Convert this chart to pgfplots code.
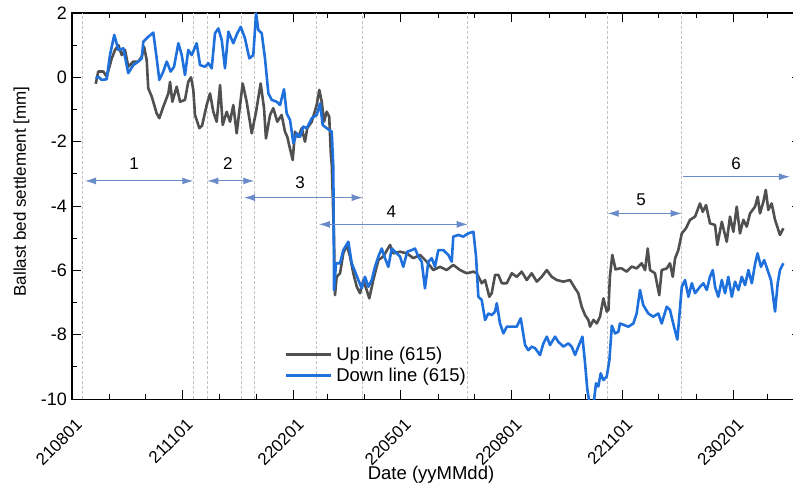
\documentclass[border=0pt]{standalone}
\usepackage{fontspec}
\setmainfont{Liberation Sans}
\usepackage{pgfplots}
\pgfplotsset{compat=1.18}
\usetikzlibrary{arrows.meta,calc}
\definecolor{upc}{RGB}{80,80,80}
\definecolor{downc}{RGB}{30,112,220}
\definecolor{arrc}{RGB}{105,140,200}
\definecolor{vline}{RGB}{195,195,195}
\newcommand{\xtf}{\fontsize{17bp}{20bp}\selectfont}
\newcommand{\ytf}{\fontsize{18bp}{21bp}\selectfont}
\newcommand{\lgf}{\fontsize{18.5bp}{22bp}\selectfont}
\newcommand{\ylf}{\fontsize{17bp}{20bp}\selectfont}
\newcommand{\nmf}{\fontsize{17bp}{20bp}\selectfont}
\begin{document}
\begin{tikzpicture}
\begin{axis}[
 x=1.2046bp, y=32.17bp,
 xmin=0, xmax=605, ymin=-10, ymax=2,
 axis line style={line width=1.1bp, black},
 xtick={0,92,184,273,365,457,549},
 xticklabels={210801,211101,220201,220501,220801,221101,230201},
 minor xtick={31,61,122,153,212,243,304,334,396,426,487,518,577},
 ytick={-10,-8,-6,-4,-2,0,2},
 yticklabels={-10,-8,-6,-4,-2,0,2},
 minor ytick={-9,-7,-5,-3,-1,1},
 major tick length=9bp, minor tick length=5bp,
 tick style={line width=0.9bp, black},
 yticklabel style={font=\ytf, inner sep=2bp, xshift=-3bp},
 xticklabel style={font=\xtf, inner sep=2bp, xshift=8.5bp, yshift=-21.5bp, rotate=45, anchor=east},
 xlabel={Date (yyMMdd)},
 ylabel={Ballast bed settlement [mm]},
 xlabel style={font=\lgf, at={(axis description cs:0.4926,-0.1969)}, anchor=center},
 ylabel style={font=\ylf, at={(axis description cs:-0.0693,0.5376)}, anchor=center},
 legend style={draw=none, fill=none, font=\lgf, at={(axis cs:176,-8.94)}, anchor=west, inner sep=0pt, row sep=3bp, column sep=3bp, nodes={inner sep=1.5bp}},
 legend cell align=left,
 legend image code/.code={\draw[#1] (0bp,0bp) -- (45bp,0bp);},
]
\pgfplotsinvokeforeach{8.9,100.7,112.7,140.9,151.3,202.6,241.3,328.5,444.7,506.1}{
 \draw[vline, dash pattern=on 3bp off 2bp, line width=0.8bp] (axis cs:#1,-10) -- (axis cs:#1,2);
}
\addplot[upc, line width=2.6bp, line join=round] coordinates {
(19.7,-0.20) (21.8,0.18) (26,0.18) (28.8,0.02) (33,0.59) (35.7,0.85) (38.5,1.00) (41.3,0.69) (44,0.85) (46.7,0.33)
(50.9,0.49) (55,0.49) (57.9,0.64) (59.8,0.95) (62,0.54) (63.3,-0.34) (66.2,-0.60) (70.3,-1.12) (72.5,-1.27) (75.8,-0.91)
(80,-0.50) (81.4,-0.14) (83.3,-0.76) (86.9,-0.29) (89.7,-0.76) (93.8,-0.70) (96.5,-0.14) (98.8,0.00) (100.7,-0.39) (102.1,-1.17)
(105.7,-1.58) (108,-1.50) (111.8,-0.86) (114.6,-0.50) (117.3,-1.07) (120.1,-1.38) (122.9,-0.24) (125.1,-1.48) (128.4,-1.07) (131.2,-1.38)
(133.9,-0.86) (136.7,-1.74) (139.5,-0.86) (141.7,-0.19) (145,-0.76) (149.2,-1.74) (152.8,-1.07) (156.6,-0.19) (159.4,-0.96) (161,-1.90)
(164.4,-1.17) (167.1,-0.96) (170.4,-1.38) (174,-1.17) (176.8,-1.69) (178.7,-1.85) (180.9,-2.21) (183.2,-2.57) (185.1,-1.69) (187.9,-1.85)
(190.7,-1.58) (193.4,-2.00) (195.3,-1.58) (199,-1.38) (203.1,-0.86) (205.3,-0.39) (207.3,-0.76) (209.2,-1.38) (211.4,-1.07) (213.5,-1.22)
(214.9,-2.41) (215.6,-2.67) (217.5,-5.0) (218.3,-6.77) (219.7,-6.20) (222.5,-6.09) (225.2,-5.47) (228.1,-5.21) (230.8,-5.57) (233.5,-6.09)
(236.4,-6.51) (239.1,-6.71) (241.8,-6.30) (244.6,-6.61) (246.8,-6.87) (250.1,-6.30) (254.3,-5.68) (258.4,-5.57) (264,-5.21) (266.7,-5.47)
(272.3,-5.42) (277.9,-5.47) (283.3,-5.62) (288.9,-5.52) (294.5,-5.73) (299.9,-5.99) (305.5,-5.89) (311,-5.99) (316.5,-5.83) (322.1,-5.99)
(327.7,-6.09) (333.2,-6.04) (336,-6.09) (340.1,-6.40) (342.9,-6.30) (346.4,-6.82) (348.4,-6.71) (351.2,-6.14) (353.9,-6.14) (356.8,-6.40)
(360.9,-6.40) (365,-6.09) (369.2,-6.20) (373.3,-6.04) (377.5,-6.30) (381.6,-6.09) (385.8,-6.35) (389.9,-6.20) (394.1,-5.99) (398.2,-6.20)
(402.4,-6.30) (407.9,-6.35) (413.4,-6.30) (417.6,-6.56) (420.3,-6.71) (423.1,-7.13) (425.9,-7.39) (428.6,-7.54) (430,-7.75) (432.8,-7.54)
(435.6,-7.65) (438.3,-7.44) (441.1,-6.87) (443.9,-7.28) (445.3,-7.23) (446.5,-6.20) (448.5,-5.52) (451.2,-5.97) (454.4,-5.94) (456.3,-5.94)
(460.4,-6.04) (464.6,-5.88) (468.7,-5.94) (472.9,-5.78) (475.7,-5.99) (477.9,-5.32) (479.8,-5.99) (483.9,-6.09) (487.5,-6.77) (489.5,-5.99)
(493.7,-5.94) (496.4,-5.78) (498.7,-6.20) (500.6,-5.63) (503.3,-5.37) (506.2,-4.85) (509.7,-4.69) (513,-4.43) (517.2,-4.33) (521.3,-3.92)
(523.6,-4.18) (526.3,-3.97) (529.6,-4.54) (533.8,-4.59) (535.7,-5.21) (539.4,-4.49) (543.5,-5.11) (546.2,-4.33) (549,-4.80) (551.8,-4.02)
(554.5,-4.85) (557.3,-4.43) (560.1,-4.64) (562.8,-4.23) (567,-4.02) (569.2,-3.71) (571.1,-4.23) (573.9,-3.87) (575.9,-3.50) (578,-4.12)
(580.8,-3.92) (583.6,-4.43) (587.7,-4.90) (590.5,-4.69)
};
\addlegendentry{Up line (615)}
\addplot[downc, line width=2.6bp, line join=round] coordinates {
(19.7,-0.03) (21.8,0.02) (24.7,-0.08) (28.8,-0.06) (31.5,0.69) (35.1,1.32) (38.5,0.85) (42.6,0.90) (46.7,0.13) (50.9,0.38)
(55,0.49) (57.9,0.59) (59.2,1.11) (63.3,1.26) (67.5,1.39) (70.3,0.59) (72.5,-0.08) (75.8,0.18) (78.6,0.49) (81.9,0.18)
(84.7,0.33) (88.3,1.06) (91.1,0.69) (93.8,0.07) (96.5,0.85) (99.4,0.69) (103.5,1.06) (106.3,0.38) (110.4,0.33) (113.2,0.44)
(116,0.28) (118.7,1.37) (121.5,1.52) (124.3,1.16) (127,0.28) (129.8,1.42) (133.9,1.06) (137.2,1.37) (140.1,1.57) (143.6,1.21)
(147.2,0.59) (150.5,0.69) (152.8,1.99) (154.7,1.47) (157.5,1.37) (160.2,0.59) (163,-0.50) (165.8,-0.70) (169.9,-0.76) (172.7,-0.86)
(176,-0.37) (178.2,-1.12) (181,-1.33) (183.8,-2.05) (186.5,-1.74) (189.3,-1.85) (192,-1.53) (194.9,-1.58) (199,-1.27) (203.1,-1.17)
(205.9,-0.81) (208.1,-1.48) (211.4,-1.58) (215.6,-1.69) (216.9,-2.78) (217.2,-4.33) (217.5,-6.61) (219.2,-5.78) (222.5,-5.78) (225.2,-5.37)
(229.4,-5.11) (232.2,-5.78) (235,-6.04) (237.7,-6.30) (240.5,-6.56) (243.2,-6.20) (246,-6.51) (248.8,-6.30) (251.5,-5.89) (254.3,-5.57)
(257.1,-5.32) (259.8,-5.62) (262.6,-5.89) (265.4,-5.32) (268.1,-5.42) (272.3,-5.57) (275,-5.89) (278.3,-5.42) (282,-5.37) (284.7,-5.32)
(287.5,-5.57) (290.3,-5.73) (293,-6.56) (295.8,-5.73) (298.6,-5.62) (301.3,-5.89) (304.1,-5.37) (308.2,-5.37) (312.4,-5.52) (315.2,-5.73)
(316.5,-4.95) (320.7,-4.90) (324.8,-4.95) (329,-4.85) (333.2,-4.80) (335.4,-5.57) (337.3,-6.82) (340.1,-6.92) (342.9,-7.54) (345.6,-7.34)
(348.4,-7.39) (351.2,-7.28) (352.6,-7.02) (355.3,-7.65) (358.1,-7.96) (360.9,-7.75) (365,-7.75) (369.2,-7.75) (372.5,-7.49) (376.1,-8.32)
(378.8,-8.48) (381.6,-8.37) (384.4,-8.42) (388.5,-8.63) (391.3,-8.27) (394.1,-8.06) (396.8,-8.32) (401,-8.06) (403.7,-8.22) (407.9,-8.37)
(412,-8.27) (414.8,-8.37) (417.6,-8.63) (420.3,-8.37) (423.7,-8.06) (425.9,-8.89) (427.8,-9.72) (430,-10.2) (432.8,-10.2) (435,-9.51)
(436.9,-9.61) (438.9,-9.20) (441.1,-9.41) (443.9,-9.30) (446.1,-8.79) (448.1,-7.72) (450.8,-7.96) (453.5,-7.91) (454.9,-7.65) (461.8,-7.75)
(466,-7.65) (468.7,-7.34) (471.5,-6.61) (474.2,-7.08) (478.4,-7.34) (482.5,-7.44) (486.7,-7.34) (489.5,-7.65) (493.7,-7.13) (496.4,-7.23)
(499.7,-7.75) (502.5,-8.15) (504.8,-7.13) (506.2,-6.51) (508.9,-6.30) (511.7,-6.82) (514.5,-6.40) (517.2,-6.71) (521.3,-6.51) (524.1,-6.40)
(526.9,-6.61) (529.6,-6.20) (531.9,-5.99) (533.8,-6.51) (536.5,-6.82) (539.4,-6.30) (542.1,-6.71) (544.8,-6.20) (547.7,-6.82) (550.4,-6.35)
(553.2,-6.61) (556,-6.20) (558.7,-6.46) (561.5,-5.99) (564.3,-6.40) (567.1,-5.78) (569.1,-5.47) (571.9,-5.89) (574.6,-5.68) (577.4,-5.99)
(580.2,-6.30) (583.6,-7.28) (585.8,-6.40) (587.7,-5.99) (590.5,-5.78)
};
\addlegendentry{Down line (615)}
\tikzset{aa/.style={arrc, line width=0.9bp}}
\draw[aa, {Latex[length=11bp,width=7bp]}-{Latex[length=11bp,width=7bp]}] (axis cs:10.8,-3.22) -- (axis cs:100.7,-3.22);
\draw[aa, {Latex[length=11bp,width=7bp]}-{Latex[length=11bp,width=7bp]}] (axis cs:112.3,-3.22) -- (axis cs:151.3,-3.22);
\draw[aa, {Latex[length=11bp,width=7bp]}-{Latex[length=11bp,width=7bp]}] (axis cs:142.8,-3.74) -- (axis cs:241.3,-3.74);
\draw[aa, {Latex[length=11bp,width=7bp]}-{Latex[length=11bp,width=7bp]}] (axis cs:205,-4.57) -- (axis cs:328.5,-4.57);
\draw[aa, {Latex[length=11bp,width=7bp]}-{Latex[length=11bp,width=7bp]}] (axis cs:444.7,-4.23) -- (axis cs:506.1,-4.23);
\draw[aa, -{Latex[length=11bp,width=7bp]}] (axis cs:507.5,-3.09) -- (axis cs:596,-3.09);
\node[font=\nmf] at (axis cs:51.5,-2.69) {1};
\node[font=\nmf] at (axis cs:129.3,-2.69) {2};
\node[font=\nmf] at (axis cs:189.3,-3.27) {3};
\node[font=\nmf] at (axis cs:265,-4.19) {4};
\node[font=\nmf] at (axis cs:472.4,-3.79) {5};
\node[font=\nmf] at (axis cs:551.2,-2.67) {6};
\coordinate (bl) at (axis cs:0,-10);
\coordinate (tr) at (axis cs:598.5,2);
\end{axis}
\pgfresetboundingbox
\path[use as bounding box] ($(bl)+(-72bp,-90bp)$) rectangle ($(tr)+(0bp,13bp)$);
\end{tikzpicture}
\end{document}
